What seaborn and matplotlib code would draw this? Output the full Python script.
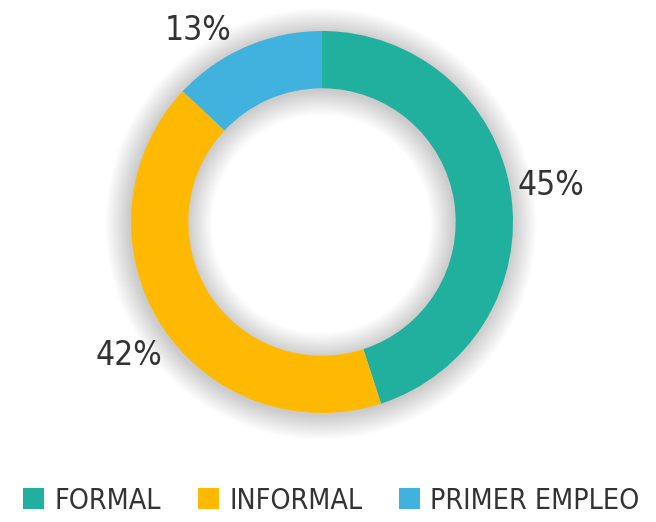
import matplotlib
matplotlib.use("Agg")
import matplotlib.pyplot as plt
from matplotlib.patches import Patch
import seaborn as sns

categories = ["FORMAL", "INFORMAL", "PRIMER EMPLEO"]
values = [45, 42, 13]
labels = ["45%", "42%", "13%"]
colors = ["#22B09E", "#FFB900", "#41B2DE"]

sns.set_theme(style="white")
plt.rcParams["font.family"] = ["DejaVu Sans"]
plt.rcParams["font.stretch"] = "condensed"

fig = plt.figure(figsize=(6.56, 5.22), dpi=100)
W, H = 656, 522
cx, cy, R = 322, 222, 191
half = 1.3 * R
ax = fig.add_axes([(cx - half) / W, (H - cy - half) / H, 2 * half / W, 2 * half / H])
ax.set_xlim(-1.3, 1.3)
ax.set_ylim(-1.3, 1.3)
ax.set_aspect("equal")
ax.axis("off")

# soft shadow
n = 26
for i in range(n):
    d = 0.005 * (i + 1)
    ax.pie([1], radius=1 + d, colors=["#000000"],
           wedgeprops=dict(width=0.30 + 2 * d, alpha=0.006, linewidth=0),
           center=(-0.005, -0.01))

wedges, _ = ax.pie(values, radius=1, colors=colors, startangle=90, counterclock=False,
                   wedgeprops=dict(width=0.30, linewidth=0))

label_pos = [(1.20, 0.19), (-1.01, -0.70), (-0.65, 1.0)]
for (x, y), t in zip(label_pos, labels):
    ax.text(x, y, t, ha="center", va="center", fontsize=24, color="#333333",
            fontstretch="condensed")

ax.set_xlim(-1.3, 1.3)
ax.set_ylim(-1.3, 1.3)

handles = [Patch(facecolor=c, edgecolor="none") for c in colors]
fig.legend(handles, categories, loc="lower center", bbox_to_anchor=(0.505, -0.035), ncol=3,
           frameon=False, prop=dict(size=20.5, stretch="condensed"), handlelength=0.75,
           handleheight=0.75, handletextpad=0.35, columnspacing=1.3, labelcolor="#333333")

fig.savefig("out.png", dpi=100)
